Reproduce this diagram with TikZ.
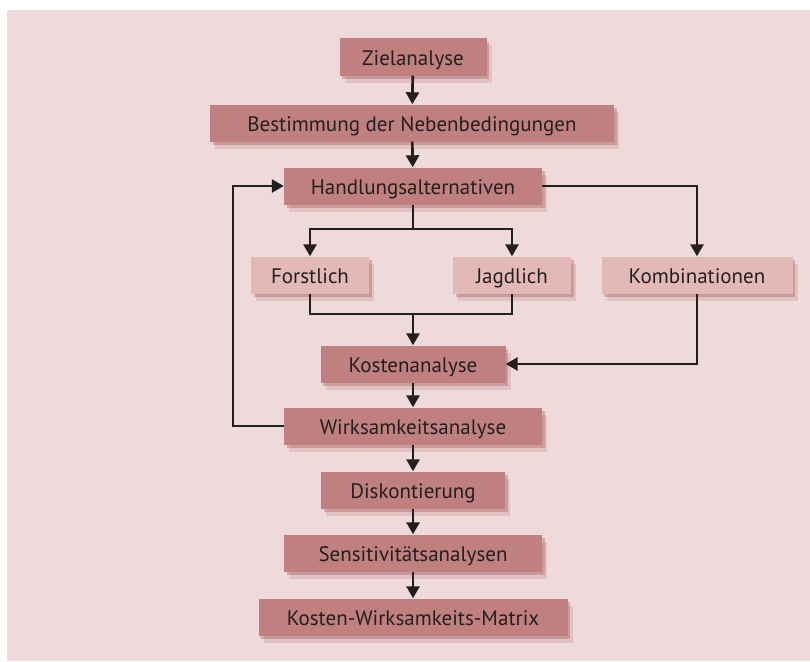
\documentclass[tikz,border=0pt]{standalone}
\usepackage{fontspec}
\setmainfont{PT Sans}
\usetikzlibrary{arrows.meta, shadows}
\definecolor{panel}{RGB}{238,218,218}
\definecolor{darkbox}{RGB}{192,128,128}
\definecolor{lightbox}{RGB}{227,185,183}
\definecolor{shade}{RGB}{165,85,85}
\definecolor{ink}{RGB}{35,31,32}
\tikzset{
  box/.style={minimum height=37pt, inner sep=0pt, text height=17pt, text depth=0pt,
    text=ink, font=\fontsize{21}{24}\selectfont,
    general shadow={shadow xshift=5pt, shadow yshift=-7pt, fill=shade, opacity=.18},
    general shadow={shadow xshift=2.5pt, shadow yshift=-3.5pt, fill=shade, opacity=.35}},
  dark/.style={box, fill=darkbox},
  light/.style={box, fill=lightbox},
  edge/.style={-{Triangle[length=12pt, width=13pt]}, draw=ink, line width=2.7pt},
  plain/.style={draw=ink, line width=2.7pt}
}
\begin{document}
\begin{tikzpicture}[x=1pt, y=-1pt]
  \fill[white] (0,0) rectangle (810,661);
  \fill[panel] (7,10) rectangle (810,661);
  % main column
  \node[dark, minimum width=147pt] (ziel) at (413,57) {Zielanalyse};
  \node[dark, minimum width=404pt] (neben) at (412,123) {Bestimmung der Nebenbedingungen};
  \node[dark, minimum width=258pt] (handl) at (413,186) {Handlungsalternativen};
  \node[light, minimum width=118pt] (forst) at (310,275) {Forstlich};
  \node[light, minimum width=118pt] (jagd) at (512,275) {Jagdlich};
  \node[light, minimum width=191pt] (komb) at (697,275) {Kombinationen};
  \node[dark, minimum width=185pt] (kosten) at (413,364) {Kostenanalyse};
  \node[dark, minimum width=258pt] (wirk) at (413,426) {Wirksamkeitsanalyse};
  \node[dark, minimum width=184pt] (disk) at (413,490) {Diskontierung};
  \node[dark, minimum width=258pt] (sens) at (413,553) {Sensitivitätsanalysen};
  \node[dark, minimum width=309pt] (matrix) at (413,617) {Kosten-Wirksamkeits-Matrix};
  \coordinate (split) at (413,229);
  \coordinate (merge) at (413,314);
  \coordinate (loop) at (233,426);
  % connectors
  \draw[edge] (ziel) -- (neben);
  \draw[edge] (neben) -- (handl);
  \draw[plain] (handl) -- (split);
  \draw[edge] (split) -| (forst);
  \draw[edge] (split) -| (jagd);
  \draw[edge] (handl) -| (komb);
  \draw[plain] (forst) |- (merge) -| (jagd);
  \draw[edge] (merge) -- (kosten);
  \draw[edge] (komb) |- (kosten);
  \draw[edge] (kosten) -- (wirk);
  \draw[edge] (wirk) -- (loop) |- (handl);
  \draw[edge] (wirk) -- (disk);
  \draw[edge] (disk) -- (sens);
  \draw[edge] (sens) -- (matrix);
\end{tikzpicture}
\end{document}
